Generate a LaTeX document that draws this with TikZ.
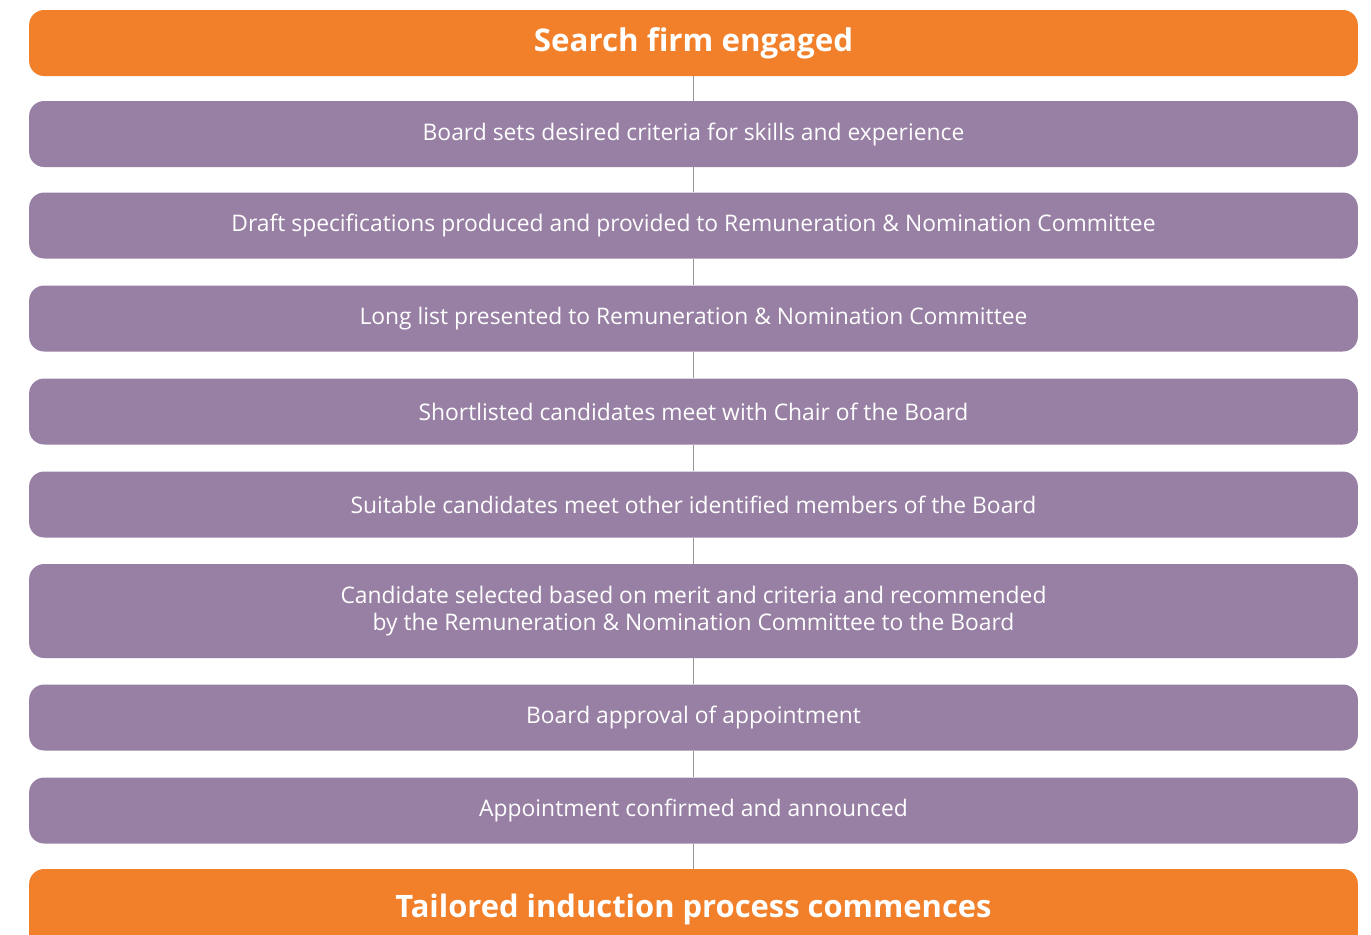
\documentclass[tikz,border=0pt]{standalone}
\usepackage{fontspec}
\setmainfont{Open Sans}
\usetikzlibrary{positioning}
\definecolor{headorange}{RGB}{242, 128, 42}
\definecolor{steppurple}{RGB}{152, 128, 164}
\definecolor{linkgray}{RGB}{150, 150, 150}

\begin{document}
\begin{tikzpicture}[
        x=0.02cm, y=-0.02cm,
        head/.style={
            rectangle,
            rounded corners=0.3cm,
            minimum width=26.58cm,
            minimum height=1.32cm,
            fill=headorange,
            text=white,
            font=\fontsize{17.8}{21}\selectfont\bfseries
        },
        stepbox/.style={
            rectangle,
            rounded corners=0.3cm,
            minimum width=26.58cm,
            minimum height=1.32cm,
            fill=steppurple,
            text=white,
            align=center,
            font=\fontsize{13}{15.4}\selectfont
        },
        link/.style={
            draw=linkgray,
            line width=0.8pt
        }
    ]
        \useasboundingbox (0,0) rectangle (1371,934);

        \node[head] (search) at (693.5, 43) {Search firm engaged};
        \node[stepbox] (criteria) at (693.5, 134) {Board sets desired criteria for skills and experience};
        \node[stepbox] (draft) at (693.5, 225.5) {Draft specifications produced and provided to Remuneration \& Nomination Committee};
        \node[stepbox] (longlist) at (693.5, 318.5) {Long list presented to Remuneration \& Nomination Committee};
        \node[stepbox] (shortlist) at (693.5, 411.5) {Shortlisted candidates meet with Chair of the Board};
        \node[stepbox] (members) at (693.5, 504.5) {Suitable candidates meet other identified members of the Board};
        \node[stepbox, minimum height=1.88cm] (selected) at (693.5, 611) {Candidate selected based on merit and criteria and recommended\\by the Remuneration \& Nomination Committee to the Board};
        \node[stepbox] (approval) at (693.5, 717.5) {Board approval of appointment};
        \node[stepbox] (confirmed) at (693.5, 810.5) {Appointment confirmed and announced};
        \node[head, minimum height=1.6cm, font=\fontsize{17.6}{21}\selectfont\bfseries] (induction) at (693.5, 909) {Tailored induction process commences};

        \draw[link] (search) -- (criteria);
        \draw[link] (criteria) -- (draft);
        \draw[link] (draft) -- (longlist);
        \draw[link] (longlist) -- (shortlist);
        \draw[link] (shortlist) -- (members);
        \draw[link] (members) -- (selected);
        \draw[link] (selected) -- (approval);
        \draw[link] (approval) -- (confirmed);
        \draw[link] (confirmed) -- (induction);
    \end{tikzpicture}
\end{document}
